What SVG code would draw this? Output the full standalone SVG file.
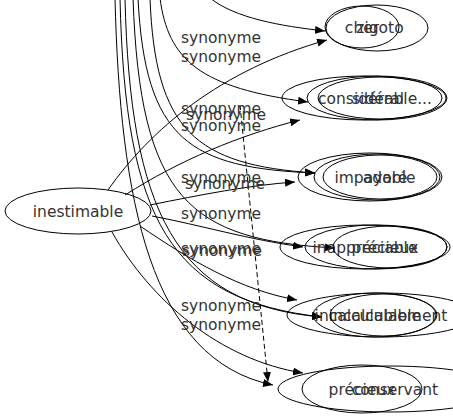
<svg xmlns="http://www.w3.org/2000/svg" width="453" height="419" viewBox="0 0 453 419">
<defs>
<marker id="ah" markerWidth="10" markerHeight="8" refX="10" refY="4" orient="auto" markerUnits="userSpaceOnUse"><path d="M0,0 L10,4 L0,8 Z" fill="#000"/></marker>
<style>
.n ellipse{fill:none;stroke:#000;stroke-width:1}
text{font-family:"DejaVu Sans",sans-serif;font-size:15.5px;fill:#333;text-anchor:middle}
.e path{fill:none;stroke:#000;stroke-width:1;marker-end:url(#ah)}
.e path.d{stroke-dasharray:5,3}
</style>
</defs>
<rect width="453" height="419" fill="#fff"/>
<g class="e" id="connectors">
<path d="M210,-2 C235,18 280,26 325,31"/>
<path d="M160,-2 C168,60 200,88 308,102"/>
<path d="M150,-2 C155,130 195,165 315,173"/>
<path d="M138,-2 C145,140 190,168 315,173"/>
<path d="M133,-2 C140,200 190,240 335,248"/>
<path d="M125,-2 C130,210 175,305 322,317"/>
<path d="M120,-2 C125,220 170,300 322,317"/>
<path d="M115,-2 C120,200 150,360 273,385"/>
<path d="M108,190 C150,130 220,70 327,40"/>
<path d="M125,195 C180,160 240,135 300,120"/>
<path d="M150,205 C200,195 250,185 295,182"/>
<path d="M152,216 C200,225 250,240 303,247"/>
<path d="M140,226 C190,260 240,290 297,300"/>
<path d="M112,232 C150,300 220,360 303,373"/>
<path class="d" d="M240,105 L268,382"/>
</g>
<g class="n" id="inestimable"><ellipse cx="78" cy="211" rx="73" ry="23"/><text x="78" y="217">inestimable</text></g>
<g class="n" id="cher"><ellipse cx="362" cy="27" rx="37" ry="21"/><text x="362" y="33">cher</text></g>
<g class="n" id="zigoto"><ellipse cx="377" cy="28" rx="51" ry="23"/><text x="380" y="33">zigoto</text></g>
<g class="n" id="considerable"><ellipse cx="364" cy="98" rx="82" ry="22"/><text x="375" y="104">considérable...</text></g>
<g class="n" id="sideral"><ellipse cx="377" cy="98" rx="70" ry="22"/><text x="378" y="104">sidéral</text></g>
<g class="n" id="sideral2"><ellipse cx="380" cy="98" rx="62" ry="21"/></g>
<g class="n" id="impayable"><ellipse cx="370" cy="177" rx="72" ry="24"/><text x="375" y="183">impayable</text></g>
<g class="n" id="adore"><ellipse cx="377" cy="177" rx="63" ry="23"/><text x="385" y="183">adoré</text></g>
<g class="n" id="chouette"><ellipse cx="380" cy="177" rx="57" ry="22"/></g>
<g class="n" id="inappreciable"><ellipse cx="365" cy="247" rx="85" ry="22"/><text x="365" y="253">inappréciable</text></g>
<g class="n" id="precieux2"><ellipse cx="376" cy="247" rx="71" ry="22"/><text x="385" y="253">précieux</text></g>
<g class="n" id="insigne"><ellipse cx="390" cy="247" rx="57" ry="21"/></g>
<g class="n" id="incalculablement"><ellipse cx="381" cy="315" rx="94" ry="22"/><text x="381" y="321">incalculablement</text></g>
<g class="n" id="incalculable"><ellipse cx="375" cy="315" rx="62" ry="22"/><text x="375" y="321">incalculable</text></g>
<g class="n" id="calculable"><ellipse cx="383" cy="315" rx="53" ry="21"/></g>
<g class="n" id="precieux"><ellipse cx="362" cy="389" rx="60" ry="24"/><text x="362" y="395">précieux</text></g>
<g class="n" id="conservant"><ellipse cx="390" cy="389" rx="112" ry="23"/><text x="395" y="395">conservant</text></g>
<g id="labels">
<text x="221" y="43">synonyme</text>
<text x="221" y="62">synonyme</text>
<text x="221" y="114">synonyme</text>
<text x="226" y="120">synonyme</text>
<text x="221" y="131">synonyme</text>
<text x="221" y="183">synonyme</text>
<text x="225" y="189">synonyme</text>
<text x="221" y="219">synonyme</text>
<text x="221" y="254">synonyme</text>
<text x="222" y="256">synonyme</text>
<text x="221" y="311">synonyme</text>
<text x="221" y="330">synonyme</text>
</g>
</svg>
